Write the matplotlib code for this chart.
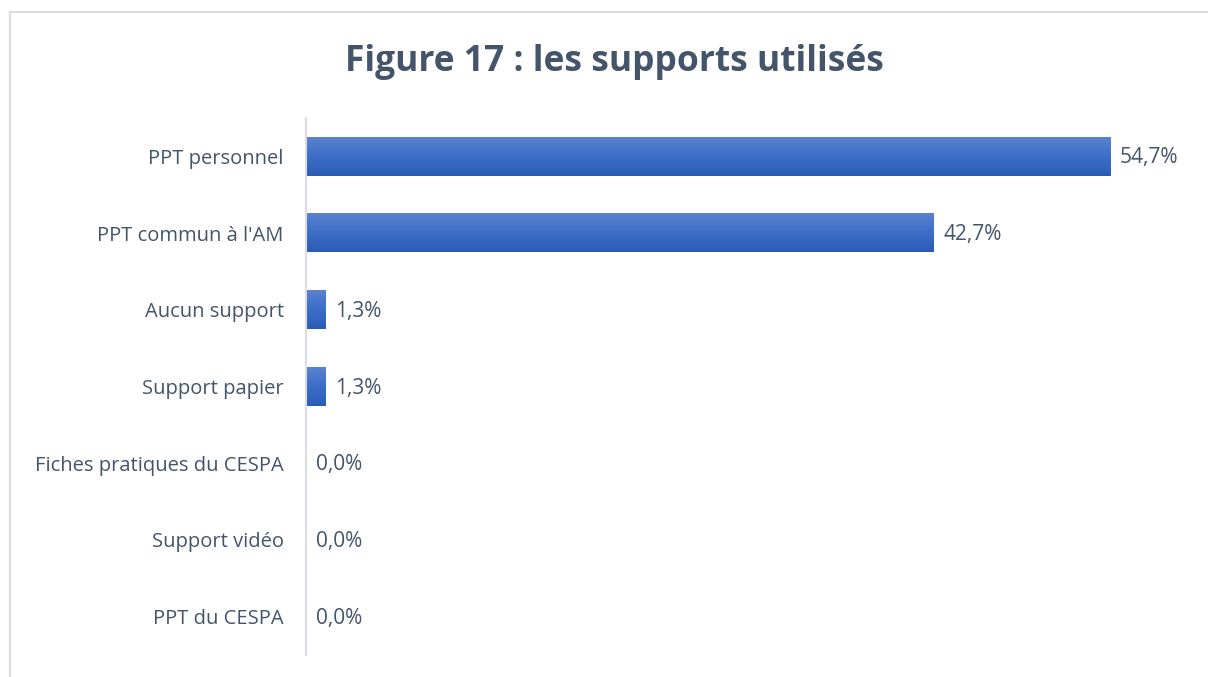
import matplotlib
matplotlib.use("Agg")
import matplotlib.pyplot as plt
import numpy as np
from matplotlib.patches import Rectangle
from matplotlib.colors import LinearSegmentedColormap

categories = ["PPT personnel", "PPT commun à l'AM", "Aucun support", "Support papier",
              "Fiches pratiques du CESPA", "Support vidéo", "PPT du CESPA"]
values = [54.7, 42.7, 1.3, 1.3, 0.0, 0.0, 0.0]
title = "Figure 17 : les supports utilisés"

W, H = 1208, 677
fig = plt.figure(figsize=(W/100, H/100), dpi=100)
fig.patch.set_facecolor("white")
fig.patches.append(Rectangle((10/W, -0.05), 1.2, 1 - 12/H + 0.05, transform=fig.transFigure,
                             fill=False, edgecolor="#D9DDE3", linewidth=1.5))

ax = fig.add_axes([306/W, 1 - 655/H, (1188-306)/W, (655-118)/H])
n = len(categories)
ys = np.arange(n)
h = 0.5
grad = np.linspace(0, 1, 100).reshape(-1, 1)
cmap = LinearSegmentedColormap.from_list("g", ["#5B83CF", "#3C6DC8", "#2B5CB5"])
for y, v in zip(ys, values):
    if v > 0:
        ax.imshow(grad, extent=(0, v, y + h/2, y - h/2), cmap=cmap, aspect="auto",
                  origin="upper", interpolation="bilinear", zorder=2)
    ax.text(v + 0.65, y + 0.02, f"{v:.1f}%".replace(".", ","), va="center", ha="left",
            fontsize=15, color="#44546A", family="Open Sans")
ax.set_xlim(0, 60)
ax.set_ylim(n - 0.5, -0.5)
ax.set_yticks(ys)
ax.set_yticklabels(categories, fontsize=14.5, color="#44546A", family="Open Sans")
ax.tick_params(axis="y", length=0, pad=16)
ax.set_xticks([])
for s in ["top", "right", "bottom"]:
    ax.spines[s].set_visible(False)
ax.spines["left"].set_color("#D9DDE3")
ax.spines["left"].set_linewidth(1.5)

fig.text(614/W, 1 - 62/H, title, ha="center", va="center", fontsize=25.5,
         fontweight="bold", color="#44546A", family="Open Sans")
fig.savefig("out.png", dpi=100)
